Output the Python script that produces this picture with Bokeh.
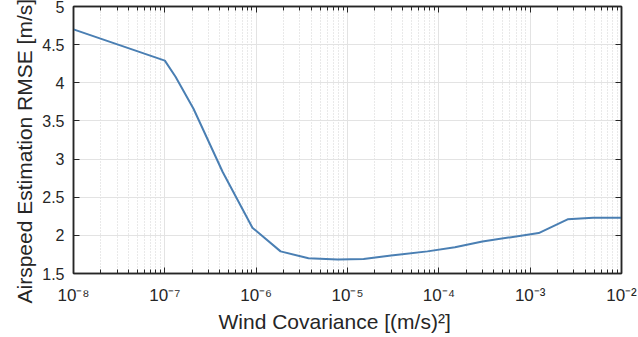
import math
from bokeh.plotting import figure
from bokeh.models import FixedTicker, LogAxis, LinearAxis, Title
from bokeh.embed import file_html
from bokeh.resources import INLINE

# ---- data ----
wind_cov = [1e-8, 1e-7, 1.31e-7, 2.06e-7, 4.3e-7, 9.1e-7, 1.85e-6, 3.74e-6,
            7.8e-6, 1.5e-5, 3e-5, 7.5e-5, 1.5e-4, 3.0e-4, 1.24e-3, 2.57e-3,
            4.9e-3, 1e-2]
rmse = [4.70, 4.29, 4.08, 3.66, 2.83, 2.10, 1.79, 1.70,
        1.685, 1.69, 1.735, 1.79, 1.845, 1.92, 2.03, 2.21,
        2.23, 2.23]

x_tick_values = [1e-8, 1e-7, 1e-6, 1e-5, 1e-4, 1e-3, 1e-2]
x_tick_labels = ["10⁻⁸", "10⁻⁷", "10⁻⁶", "10⁻⁵", "10⁻⁴", "10⁻³", "10⁻²"]
x_minor_ticks = [m * 10.0 ** e for e in range(-8, -2) for m in range(2, 10)]
y_tick_values = [1.5, 2, 2.5, 3, 3.5, 4, 4.5, 5]
y_tick_labels = ["1.5", "2", "2.5", "3", "3.5", "4", "4.5", "5"]

x_label = "Wind Covariance [(m/s)²]"
y_label = "Airspeed Estimation RMSE [m/s]"

FONT = "Liberation Sans"
AX = "#262626"

p = figure(width=638, height=337, x_axis_type="log",
           x_range=(1e-8, 1e-2), y_range=(1.5, 5),
           output_backend="svg", toolbar_location=None,
           min_border_left=73, min_border_right=17,
           min_border_top=6, min_border_bottom=64)
p.background_fill_color = "white"
p.border_fill_color = "white"
p.outline_line_color = AX
p.outline_line_width = 1.5

xt = FixedTicker(ticks=x_tick_values, minor_ticks=x_minor_ticks)
yt = FixedTicker(ticks=y_tick_values, minor_ticks=[])

def style(ax, labels=True):
    ax.axis_line_color = AX
    ax.axis_line_width = 1.5
    ax.major_tick_line_color = AX
    ax.minor_tick_line_color = AX
    ax.major_tick_in = 6
    ax.major_tick_out = 0
    ax.minor_tick_in = 4
    ax.minor_tick_out = 0
    ax.major_label_text_font = FONT
    ax.major_label_text_color = AX
    if labels:
        ax.major_label_text_font_size = "16px"
        ax.major_label_standoff = 9
    else:
        ax.major_label_text_font_size = "0px"
        ax.major_label_standoff = 0

xa = p.xaxis[0]
xa.ticker = xt
style(xa)
xa.major_label_text_font_size = "17px"
xa.major_label_standoff = 12
xa.major_label_overrides = {v: s for v, s in zip(x_tick_values, x_tick_labels)}

ya = p.yaxis[0]
ya.ticker = yt
style(ya)
ya.minor_tick_line_color = None
ya.major_label_overrides = {v: s for v, s in zip(y_tick_values, y_tick_labels)}

top = LogAxis(ticker=xt)
style(top, labels=False)
top.major_label_overrides = {v: "" for v in x_tick_values}
p.add_layout(top, "above")

right = LinearAxis(ticker=yt)
style(right, labels=False)
right.minor_tick_line_color = None
right.major_label_overrides = {v: "" for v in y_tick_values}
p.add_layout(right, "right")

# axis titles, placed like the reference
p.add_layout(Title(text=x_label, align="left", offset=145,
                   text_font=FONT, text_font_size="21px",
                   text_font_style="normal", text_color=AX, standoff=0), "below")
p.add_layout(Title(text=y_label, align="left", offset=-30,
                   text_font=FONT, text_font_size="21px",
                   text_font_style="normal", text_color=AX, standoff=8), "left")

# grids
p.xgrid.grid_line_color = "#e3e3e3"
p.xgrid.grid_line_width = 1
p.xgrid.minor_grid_line_color = "#d2d2d2"
p.xgrid.minor_grid_line_dash = "1 2"
p.ygrid.grid_line_color = "#e3e3e3"
p.ygrid.grid_line_width = 1

p.line(wind_cov, rmse, line_color="#4a7fb3", line_width=2)

open("out.html", "w").write(file_html(p, INLINE))
